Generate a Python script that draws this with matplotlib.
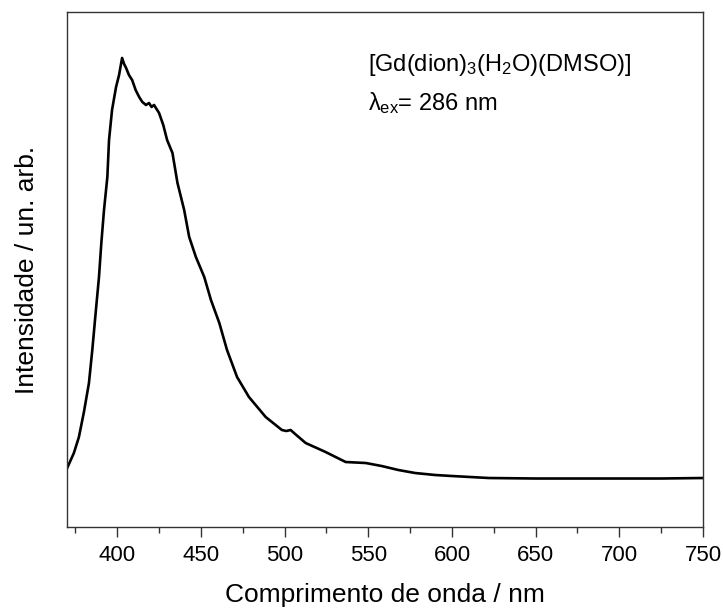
import numpy as np
import matplotlib
matplotlib.use("Agg")
import matplotlib.pyplot as plt
from matplotlib.ticker import MultipleLocator, NullLocator

plt.rcParams['font.family'] = ['Liberation Sans', 'DejaVu Sans']
plt.rcParams['mathtext.fontset'] = 'custom'
plt.rcParams['mathtext.rm'] = 'Liberation Sans'
plt.rcParams['mathtext.it'] = 'Liberation Sans'

# emission spectrum (arbitrary units)
wavelength = [370.1, 374.1, 377.1, 380.1, 383.1, 385.1, 387.1, 389.1, 390.5, 392.1,
              394.1, 395.1, 396.9, 399.3, 401.1, 402.9, 404.1, 405.3, 407.0, 408.9,
              411.0, 413.1, 415.0, 417.2, 419.0, 420.5, 422.0, 423.5, 425.0, 427.5,
              429.8, 433.0, 436.0, 440.0, 443.0, 447.0, 452.0, 456.0, 461.0, 465.6,
              471.6, 478.7, 488.7, 498.4, 501.0, 503.6, 507.0, 512.6, 524.5, 536.5,
              548.5, 558.0, 568.0, 578.0, 590.0, 600.0, 622.0, 650.0, 675.0, 700.0,
              725.0, 750.0]
intensity = [59, 74, 90, 115, 144, 177, 214, 250, 284, 317,
             350, 387, 417, 440, 452, 469, 463, 459, 452, 447,
             437, 430, 425, 422, 424, 420, 422, 418, 414, 402,
             387, 374, 344, 317, 290, 270, 250, 227, 204, 177,
             150, 130, 110, 97, 96, 97, 92, 84, 75, 65,
             64, 61, 57, 54, 52, 51, 49, 48.5, 48.5, 48.5,
             48.5, 49]

fig = plt.figure(figsize=(7.23, 6.08), dpi=100)
ax = fig.add_axes([0.0927, 0.1332, 0.8796, 0.8471])

ax.plot(wavelength, intensity, color='black', lw=1.9)

ax.set_xlim(370, 750)
ax.set_ylim(0, 515)
ax.xaxis.set_major_locator(MultipleLocator(50))
ax.xaxis.set_minor_locator(MultipleLocator(25))
ax.yaxis.set_major_locator(NullLocator())
ax.tick_params(axis='x', which='major', direction='out', length=7, width=1,
               labelsize=16, pad=6, color='#333333')
ax.tick_params(axis='x', which='minor', direction='out', length=4, width=1,
               color='#333333')
for sp in ax.spines.values():
    sp.set_linewidth(1.0)
    sp.set_color('#333333')

ax.set_xlabel('Comprimento de onda / nm', fontsize=19, labelpad=12)
ax.set_ylabel('Intensidade / un. arb.', fontsize=19, labelpad=20)

ax.text(0.473, 0.897, r'[Gd(dion)$_3$(H$_2$O)(DMSO)]', transform=ax.transAxes,
        fontsize=17, ha='left', va='center')
ax.text(0.473, 0.823, r'$\lambda_{ex}$= 286 nm', transform=ax.transAxes,
        fontsize=17, ha='left', va='center')

fig.savefig('out.png', dpi=100)
